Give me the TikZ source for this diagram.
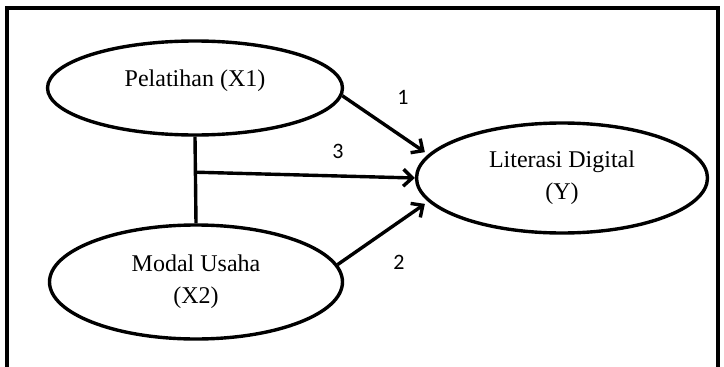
\documentclass[tikz,border=0pt]{standalone}
\usepackage{fontspec}
\setmainfont{Liberation Serif}
\newfontfamily\numfont{Carlito}
\usetikzlibrary{arrows.meta, shapes.geometric, calc}

\tikzset{
  var/.style={draw, ellipse, line width=3.4pt, inner sep=0pt, align=center,
    font=\fontsize{24}{32}\selectfont},
  path/.style={line width=3.4pt, -{Straight Barb[length=9pt,width=17pt]}},
  num/.style={font=\numfont\fontsize{22}{22}\selectfont},
}

\begin{document}
\begin{tikzpicture}[x=1pt,y=1pt]
        \useasboundingbox (0,0) rectangle (724,-367);
        \clip (0,0) rectangle (724,-367);
        \draw[line width=3.4pt] (7,-8) rectangle (718,-400);

        % variables
        \node[var, minimum width=295pt, minimum height=94pt, text height=17pt, text depth=20pt] (x1) at (195,-88) {Pelatihan (X1)};
        \node[var, minimum width=293pt, minimum height=114pt] (x2) at (196,-282) {Modal Usaha\\(X2)};
        \node[var, minimum width=291pt, minimum height=110pt] (y) at (562,-178) {Literasi Digital\\(Y)};

        \coordinate (jn) at ($(x1.south)!0.41!(x2.north)$);
        \draw[line width=3.4pt] (x1.south) -- (x2.north);

        % paths
        \draw[path, shorten >=4pt] (x1.-3) -- (y.170);
        \draw[path] (jn) -- (y.west);
        \draw[path, shorten >=4pt] (x2.7) -- (y.190);

        \node[num] (n1) at (403,-97) {1};
        \node[num] (n3) at (338,-151) {3};
        \node[num] (n2) at (399,-262) {2};
    \end{tikzpicture}
\end{document}
